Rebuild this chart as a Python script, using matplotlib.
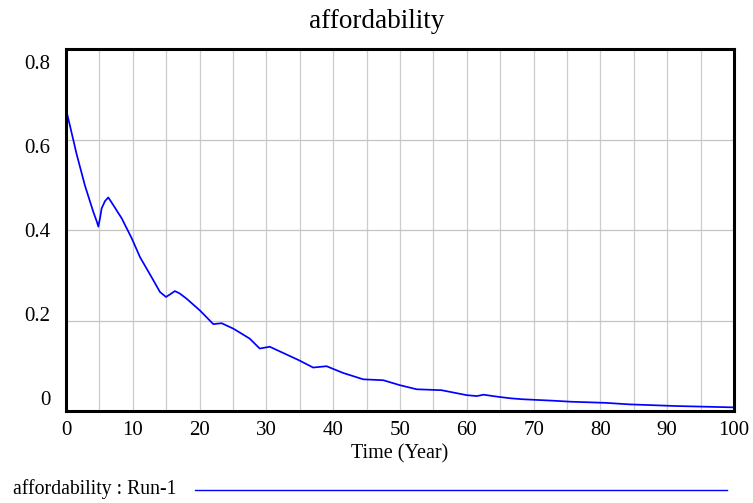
import matplotlib
matplotlib.use("Agg")
import matplotlib.pyplot as plt
from matplotlib.lines import Line2D
from matplotlib.transforms import ScaledTranslation

# ---- data ----
time_years = [0, 0.6, 1.6, 2.84, 4.09, 4.6, 4.84, 5.09, 5.34, 5.84, 6.33, 7.08,
              8.33, 9.83, 11.08, 12.8, 14.07, 14.97, 15.6, 16.3, 17.0, 18.07,
              20.06, 22.05, 23.3, 25.05, 27.5, 29.0, 30.5, 34.9, 37.0, 39.0,
              41.5, 44.5, 47.5, 50.0, 52.5, 56.2, 60.0, 61.5, 62.5, 64.9, 66.6,
              68.3, 73.0, 75.6, 80.8, 84.3, 91.3, 100]
affordability = [0.667, 0.630, 0.567, 0.498, 0.440, 0.419, 0.4075, 0.426, 0.448,
                 0.464, 0.472, 0.455, 0.426, 0.382, 0.340, 0.296, 0.263, 0.252,
                 0.258, 0.265, 0.260, 0.248, 0.222, 0.192, 0.194, 0.182, 0.160,
                 0.138, 0.142, 0.112, 0.096, 0.099, 0.084, 0.070, 0.068, 0.057,
                 0.048, 0.046, 0.035, 0.033, 0.036, 0.031, 0.028, 0.026, 0.0227,
                 0.0205, 0.018, 0.0147, 0.011, 0.008]
x_ticks = [0, 10, 20, 30, 40, 50, 60, 70, 80, 90, 100]
y_ticks = [0, 0.2, 0.4, 0.6, 0.8]
y_tick_labels = ["0", "0.2", "0.4", "0.6", "0.8"]
title = "affordability"
x_label = "Time (Year)"
legend_label = "affordability : Run-1"

W, H = 753, 503
plt.rcParams['font.family'] = ['Liberation Serif', 'DejaVu Serif']
fig = plt.figure(figsize=(W / 100, H / 100), dpi=100)
ax = fig.add_axes([66 / W, 1 - 411 / H, (734 - 66) / W, (411 - 49) / H])

ax.plot(time_years, affordability, color='#0000ff', lw=1.25)

ax.set_xlim(0, 100)
ax.set_ylim(0, 0.8)
# gridlines every 5 years and every 0.2
for t in range(5, 100, 5):
    ax.axvline(t, color='#cccccc', lw=0.9, zorder=0)
for v in [0.2, 0.4, 0.6]:
    ax.axhline(v, color='#c4c4c4', lw=0.9, zorder=0)

ax.set_xticks(x_ticks)
ax.set_xticklabels([str(v) for v in x_ticks])
ax.set_yticks(y_ticks)
ax.set_yticklabels(y_tick_labels)
ax.tick_params(length=0, labelsize=15)
ax.tick_params(axis='x', pad=7)
ax.tick_params(axis='y', pad=11)

# Vensim spreads y labels slightly inward: bottom label up, top label down
for i, lab in enumerate(ax.get_yticklabels()):
    up_px = 13 - 6.5 * i
    lab.set_transform(lab.get_transform()
                      + ScaledTranslation(0, up_px / 100, fig.dpi_scale_trans))

for s in ax.spines.values():
    s.set_linewidth(2.2)
    s.set_color('black')

fig.suptitle(title, x=0.5, y=1 - 22 / H, va='center', fontsize=19.5)
ax.set_xlabel(x_label, fontsize=14.5, labelpad=3)

fig.text(13 / W, 1 - 489 / H, legend_label, fontsize=14.2, va='center', ha='left')
fig.add_artist(Line2D([195 / W, 727 / W], [1 - 490 / H, 1 - 490 / H],
                      transform=fig.transFigure, color='#0000ff', lw=1.0))

fig.savefig("out.png", dpi=100)
